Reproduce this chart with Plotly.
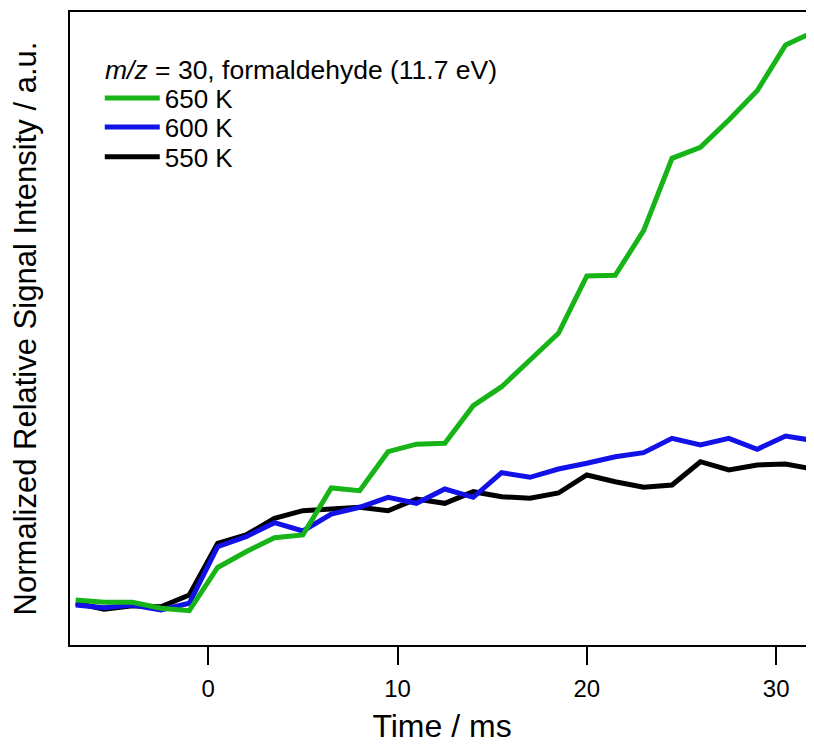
import plotly.graph_objects as go

time_ms = [-7.0 + 1.5 * i for i in range(27)]

signal_650K = [0.45, 0.427, 0.427, 0.367, 0.343, 0.775, 0.933, 1.073, 1.10, 1.57,
               1.543, 1.933, 2.008, 2.017, 2.393, 2.583, 2.85, 3.117, 3.69, 3.697,
               4.143, 4.867, 4.977, 5.25, 5.543, 6.00, 6.133]
signal_600K = [0.40, 0.373, 0.40, 0.35, 0.417, 0.983, 1.083, 1.223, 1.14, 1.31,
               1.377, 1.477, 1.417, 1.56, 1.477, 1.723, 1.677, 1.76, 1.817, 1.883,
               1.923, 2.067, 2.00, 2.067, 1.957, 2.09, 2.043]
signal_550K = [0.42, 0.357, 0.393, 0.383, 0.50, 1.017, 1.10, 1.267, 1.343, 1.36,
               1.377, 1.343, 1.46, 1.417, 1.533, 1.483, 1.467, 1.52, 1.70, 1.633,
               1.577, 1.60, 1.833, 1.75, 1.80, 1.81, 1.757]

legend_title = "<i>m/z</i> = 30, formaldehyde (11.7 eV)"

# (name, values, colour, legend id)
series = [
    ("550 K", signal_550K, "#000000", "legend3"),
    ("600 K", signal_600K, "#1212e8", "legend2"),
    ("650 K", signal_650K, "#16b416", "legend"),
]

FONT = "Liberation Sans, Arial, sans-serif"

fig = go.Figure()
for name, ys, color, leg in series:
    fig.add_trace(go.Scatter(x=time_ms, y=ys, mode="lines", name=name,
                             legend=leg, line=dict(color=color, width=5)))

def legend_box(ypos):
    return dict(x=0.04, y=ypos, xanchor="left", yanchor="middle",
                bgcolor="rgba(0,0,0,0)", borderwidth=0,
                font=dict(size=26), itemwidth=55)

# page body has an 8px margin, so the figure is sized/offset to compensate
fig.update_layout(
    width=806, height=736,
    margin=dict(l=62, r=0, t=4, b=99),
    paper_bgcolor="white", plot_bgcolor="white",
    font=dict(family=FONT, size=24, color="black"),
    showlegend=True,
    legend=legend_box(0.864),
    legend2=legend_box(0.818),
    legend3=legend_box(0.771),
    annotations=[dict(text=legend_title, xref="paper", yref="paper",
                      x=0.044, y=0.908, xanchor="left", yanchor="middle",
                      showarrow=False, font=dict(size=26.5))],
    xaxis=dict(
        range=[-7.3, 32.0], tickvals=[0, 10, 20, 30],
        showgrid=False, zeroline=False,
        showline=True, linecolor="black", linewidth=2, mirror=True,
        ticks="outside", ticklen=18, tickwidth=2, tickcolor="black",
        tickfont=dict(size=24), ticklabelstandoff=3,
        title=dict(text="Time / ms", font=dict(size=32), standoff=14),
    ),
    yaxis=dict(
        range=[0, 6.33], showgrid=False, zeroline=False,
        showline=True, linecolor="black", linewidth=2,
        showticklabels=False, ticks="",
        title=dict(text="Normalized Relative Signal Intensity / a.u.",
                   font=dict(size=31), standoff=23),
    ),
)

fig.write_html("out.html")
